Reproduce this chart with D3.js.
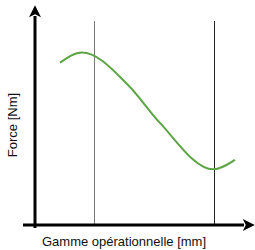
<!DOCTYPE html>
<html>
<head>
<meta charset="utf-8">
<script src="https://d3js.org/d3.v7.min.js"></script>
<style>
  body { margin: 0; background: white; }
  text { font-family: "Liberation Sans", Arial, sans-serif; }
</style>
</head>
<body>
<svg></svg>
<script>
  // data (units of the operating range / force, 0..100)
  var curveX = [11.9, 22.4, 44.3, 59.5, 84.8, 95.2];
  var curveY = [77.3, 82.2, 66.7, 48.6, 26.5, 31.0];
  var limitX = [28, 85];
  var limitColors = ["#777", "#222"];
  var xLabel = "Gamme opérationnelle [mm]";
  var yLabel = "Force [Nm]";

  var width = 255, height = 250;
  var x = d3.scaleLinear().domain([0, 100]).range([35, 245]);
  var y = d3.scaleLinear().domain([0, 100]).range([225, 15]);

  var svg = d3.select("svg").attr("width", width).attr("height", height);

  var defs = svg.append("defs");
  defs.append("marker")
    .attr("id", "arrow")
    .attr("viewBox", "0 0 10 10")
    .attr("refX", 1).attr("refY", 5)
    .attr("markerWidth", 6.5).attr("markerHeight", 4)
    .attr("markerUnits", "strokeWidth")
    .attr("orient", "auto")
    .append("path")
      .attr("d", "M0,0 L10,5 L0,10 L2.5,5 Z")
      .attr("fill", "black");

  // limit lines
  svg.selectAll(".limit")
    .data(limitX)
    .enter().append("line")
      .attr("x1", function(d){ return Math.round(x(d)) + 0.5; })
      .attr("x2", function(d){ return Math.round(x(d)) + 0.5; })
      .attr("y1", 21).attr("y2", y(0))
      .attr("stroke", function(d, i){ return limitColors[i]; })
      .attr("stroke-width", 1);

  // curve
  var pts = curveX.map(function(d, i){ return [d, curveY[i]]; });
  var line = d3.line()
    .x(function(d){ return x(d[0]); })
    .y(function(d){ return y(d[1]); })
    .curve(d3.curveMonotoneX);
  svg.append("path")
    .datum(pts)
    .attr("d", line)
    .attr("fill", "none")
    .attr("stroke", "#5ba545")
    .attr("stroke-width", 2);

  // axes
  svg.append("line")
    .attr("x1", x(0)).attr("y1", y(0) + 3)
    .attr("x2", x(0)).attr("y2", 16)
    .attr("stroke", "black").attr("stroke-width", 3)
    .attr("marker-end", "url(#arrow)");
  svg.append("line")
    .attr("x1", 23).attr("y1", y(0))
    .attr("x2", 244).attr("y2", y(0))
    .attr("stroke", "black").attr("stroke-width", 3)
    .attr("marker-end", "url(#arrow)");

  // labels
  svg.append("text")
    .attr("x", 42).attr("y", 246)
    .attr("font-size", "13px")
    .attr("fill", "#111")
    .text(xLabel);
  svg.append("text")
    .attr("transform", "translate(17,125) rotate(-90)")
    .attr("text-anchor", "middle")
    .attr("font-size", "13px")
    .attr("fill", "#111")
    .text(yLabel);
</script>
</body>
</html>
